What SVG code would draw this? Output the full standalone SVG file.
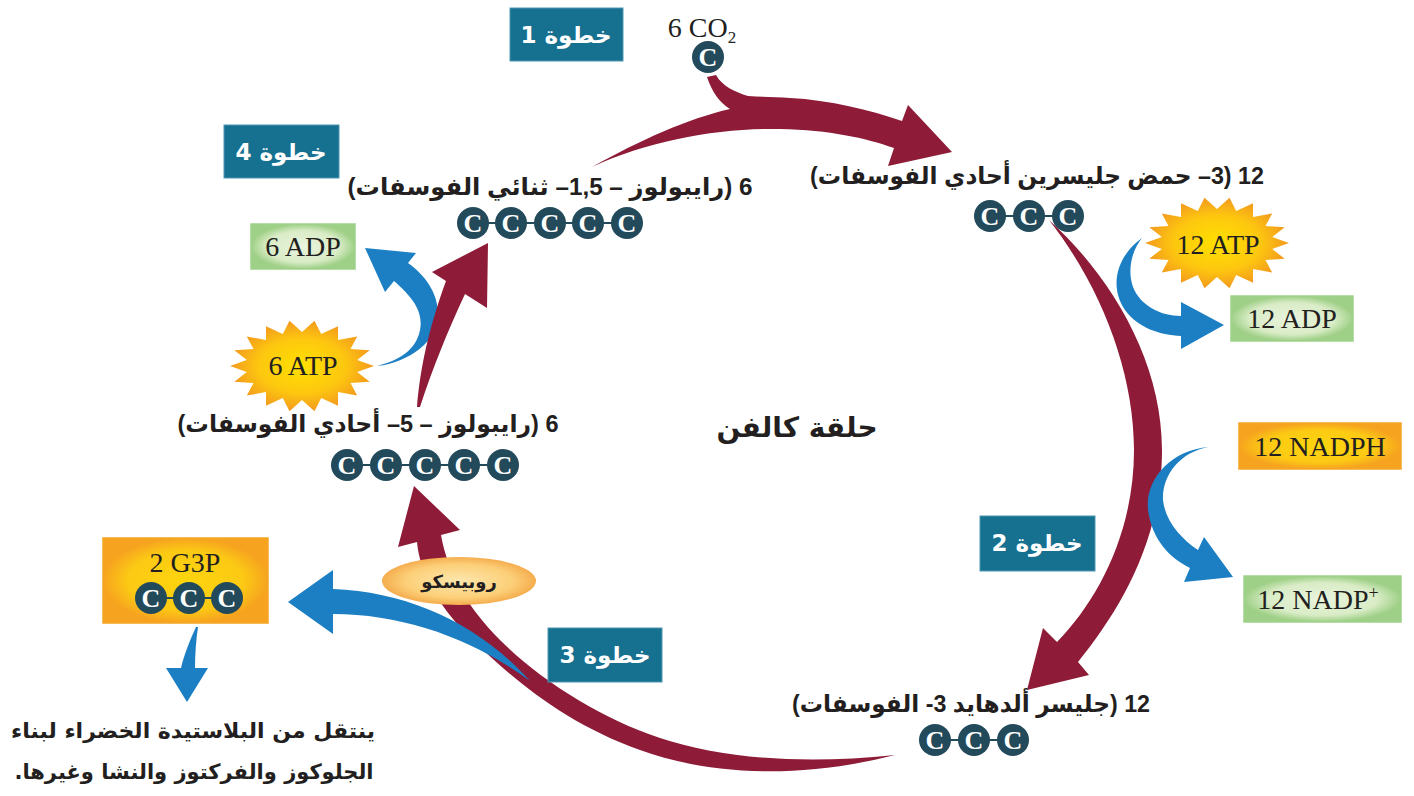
<svg xmlns="http://www.w3.org/2000/svg" xmlns:xlink="http://www.w3.org/1999/xlink" width="1414" height="796" viewBox="0 0 1414 796">
<style>
.crimson{fill:#8e1b37}
.blue{fill:#1c7fc3}
.step rect{fill:#16708f;stroke:#4f95b0;stroke-width:1}
.step text{fill:#fff;font-family:"DejaVu Sans",sans-serif;font-weight:bold;font-size:23px;text-anchor:middle}
.atom circle{fill:#234a5b}
.atom text{fill:#fff;font-family:"Liberation Serif",serif;font-weight:bold;font-size:26px;text-anchor:middle}
.bond{stroke:#234a5b;stroke-width:2}
.lbl{font-family:"Liberation Sans","DejaVu Sans",sans-serif;font-size:24px;fill:#231f20;text-anchor:middle;font-weight:bold}
.chem{font-family:"Liberation Serif",serif;font-size:28px;fill:#231f20;text-anchor:middle}
.ar{font-family:"DejaVu Sans",sans-serif;font-weight:bold;fill:#231f20;text-anchor:middle}
.gbox{fill:url(#greenGrad);stroke:#9fd18a;stroke-width:1.5}
.obox{fill:url(#orangeGrad);stroke:#f5a623;stroke-width:1.5}
</style>
<defs>
<radialGradient id="starGrad"><stop offset="0" stop-color="#ffe000"/><stop offset="0.6" stop-color="#fdc70f"/><stop offset="1" stop-color="#f39a1e"/></radialGradient>
<radialGradient id="greenGrad"><stop offset="0" stop-color="#e9f4dd"/><stop offset="0.7" stop-color="#d9ecc6"/><stop offset="1" stop-color="#9fd087"/></radialGradient>
<radialGradient id="orangeGrad"><stop offset="0" stop-color="#fdd50d"/><stop offset="0.7" stop-color="#fcc914"/><stop offset="1" stop-color="#f6a41f"/></radialGradient>
<radialGradient id="rubGrad"><stop offset="0" stop-color="#fde7ae"/><stop offset="0.7" stop-color="#fccf78"/><stop offset="1" stop-color="#f5ad4e"/></radialGradient>
<polygon id="star" fill="url(#starGrad)" points="72,0 55.2,5.9 67.7,15.7 48.5,17 55.2,29.6 36,26 36,39.8 19.2,32 12.5,45.3 0,34 -12.5,45.3 -19.2,32 -36,39.8 -36,26 -55.2,29.6 -48.5,17 -67.7,15.7 -55.2,5.9 -72,0 -55.2,-5.9 -67.7,-15.7 -48.5,-17 -55.2,-29.6 -36,-26 -36,-39.8 -19.2,-32 -12.5,-45.3 0,-34 12.5,-45.3 19.2,-32 36,-39.8 36,-26 55.2,-29.6 48.5,-17 67.7,-15.7 55.2,-5.9"/>
<g id="atom" class="atom"><circle r="16"/><text y="9">C</text></g>
</defs>
<rect width="1414" height="796" fill="#fff"/>

<g id="connectors">
  <!-- step 1: CO2 + RuBP -> PGA -->
  <path class="crimson" d="M592,167 C650,140 720,128 780,129 C830,130 865,138 894,148 L888,166 L952,152 L908,105 L902,121 C870,110 830,100 790,98 C775,97 760,97 748,96 C735,92 722,86 716,75 L707,77 C712,92 720,103 730,109 C690,118 640,140 592,167 Z"/>
  <!-- step 2: PGA -> G3P -->
  <path class="crimson" d="M1049,220 C1110,275 1162,360 1162,450 C1162,540 1120,610 1078,662 L1089,675 L1027,690 L1043,628 L1057,642 C1100,598 1134,530 1134,450 C1134,370 1100,285 1049,220 Z"/>
  <path class="blue" d="M1142,238 C1118,255 1108,285 1125,310 C1138,328 1160,335 1181,336 L1181,349 L1224,325 L1181,302 L1181,316 C1160,316 1140,305 1133,287 C1127,270 1132,250 1142,238 Z"/>
  <path class="blue" d="M1209,447 C1170,450 1145,480 1148,510 C1152,540 1170,558 1190,568 L1184,582 L1233,577 L1204,537 L1198,550 C1180,538 1165,520 1163,500 C1162,475 1180,452 1209,447 Z"/>
  <!-- step 3: G3P -> Ru5P -->
  <path class="crimson" d="M414,486 L460,530 L441,535 C448,575 470,610 500,640 C540,680 600,718 660,738 C720,758 800,765 895,755 C790,782 700,772 640,750 C570,725 520,685 480,647 C440,610 420,575 417,542 L398,547 Z"/>
  <path class="blue" d="M288,602 L333,570 L333,589 C410,592 480,625 530,681 C475,640 405,614 333,614 L333,634 Z"/>
  <path class="blue" d="M196,627 C190,640 184,655 181,668 L166,668 L187,702 L208,668 L195,668 C195,655 196,640 198,627 Z"/>
  <!-- step 4: Ru5P -> RuBP -->
  <path class="blue" d="M377,366 C410,362 440,340 438,312 C437,292 425,275 408,263 L416,253 L365,248 L385,292 L394,281 C410,295 424,310 420,330 C416,350 400,360 377,366 Z"/>
  <path class="crimson" d="M417,407 C420,370 428,330 446,281 L432,272 L488,243 L487,308 L465,294 C448,330 432,370 420,407 Z"/>
</g>

<g id="step1" class="step"><rect x="510" y="8" width="113" height="53"/><text x="566" y="43" direction="rtl">خطوة 1</text></g>
<g id="step2" class="step"><rect x="980" y="516" width="115" height="55"/><text x="1037" y="551" direction="rtl">خطوة 2</text></g>
<g id="step3" class="step"><rect x="548" y="628" width="114" height="54"/><text x="605" y="663" direction="rtl">خطوة 3</text></g>
<g id="step4" class="step"><rect x="224" y="125" width="115" height="53"/><text x="281" y="160" direction="rtl">خطوة 4</text></g>

<g id="co2">
  <text class="chem" x="702" y="37" font-size="26">6 CO<tspan font-size="17" dy="6">2</tspan></text>
  <use href="#atom" x="708" y="57"/>
</g>

<g id="rubp">
  <text class="lbl" x="550" y="195" direction="rtl" textLength="405" lengthAdjust="spacingAndGlyphs">6 (رايبولوز – 1,5– ثنائي الفوسفات)</text>
  <line class="bond" x1="473" y1="223" x2="627" y2="223"/>
  <use href="#atom" x="473" y="223"/><use href="#atom" x="511" y="223"/><use href="#atom" x="550" y="223"/><use href="#atom" x="588" y="223"/><use href="#atom" x="627" y="223"/>
</g>

<g id="pga">
  <text class="lbl" x="1037" y="184" direction="rtl" textLength="454" lengthAdjust="spacingAndGlyphs">12 (3– حمض جليسرين أحادي الفوسفات)</text>
  <line class="bond" x1="990" y1="216" x2="1068" y2="216"/>
  <use href="#atom" x="990" y="216"/><use href="#atom" x="1029" y="216"/><use href="#atom" x="1068" y="216"/>
</g>

<g id="g3p">
  <text class="lbl" x="971" y="712" direction="rtl" textLength="358" lengthAdjust="spacingAndGlyphs">12 (جليسر ألدهايد 3- الفوسفات)</text>
  <line class="bond" x1="935" y1="740" x2="1013" y2="740"/>
  <use href="#atom" x="935" y="740"/><use href="#atom" x="974" y="740"/><use href="#atom" x="1013" y="740"/>
</g>

<g id="ru5p">
  <text class="lbl" x="368" y="432" direction="rtl" textLength="381" lengthAdjust="spacingAndGlyphs">6 (رايبولوز – 5– أحادي الفوسفات)</text>
  <line class="bond" x1="347" y1="465" x2="503" y2="465"/>
  <use href="#atom" x="347" y="465"/><use href="#atom" x="386" y="465"/><use href="#atom" x="425" y="465"/><use href="#atom" x="464" y="465"/><use href="#atom" x="503" y="465"/>
</g>

<g id="atp6"><use href="#star" transform="translate(302,366)"/><text class="chem" x="303" y="375">6 ATP</text></g>
<g id="atp12"><use href="#star" transform="translate(1217,243)"/><text class="chem" x="1218" y="254">12 ATP</text></g>

<g id="adp6"><rect class="gbox" x="251" y="224" width="104" height="45"/><text class="chem" x="303" y="256">6 ADP</text></g>
<g id="adp12"><rect class="gbox" x="1231" y="296" width="122" height="45"/><text class="chem" x="1292" y="328">12 ADP</text></g>
<g id="nadph"><rect class="obox" x="1239" y="423" width="162" height="46"/><text class="chem" x="1320" y="456">12 NADPH</text></g>
<g id="nadp"><rect class="gbox" x="1244" y="576" width="157" height="46"/><text class="chem" x="1318" y="609">12 NADP<tspan font-size="18" dy="-10">+</tspan></text></g>

<g id="g3p-out">
  <rect class="obox" x="103" y="538" width="165" height="85"/>
  <text class="chem" x="185" y="572">2 G3P</text>
  <line class="bond" x1="151" y1="598" x2="227" y2="598"/>
  <use href="#atom" x="151" y="598"/><use href="#atom" x="189" y="598"/><use href="#atom" x="227" y="598"/>
</g>

<g id="rubisco"><ellipse cx="459" cy="581" rx="77" ry="24" fill="url(#rubGrad)"/><text class="ar" x="459" y="588" font-size="18" direction="rtl">روبيسكو</text></g>

<g id="title"><text class="ar" x="797" y="437" font-size="28" direction="rtl">حلقة كالفن</text></g>

<g id="note">
  <text class="ar" x="193" y="738" font-size="21" direction="rtl" textLength="364" lengthAdjust="spacingAndGlyphs">ينتقل من البلاستيدة الخضراء لبناء</text>
  <text class="ar" x="194" y="779" font-size="21" direction="rtl">الجلوكوز والفركتوز والنشا وغيرها.</text>
</g>
</svg>
